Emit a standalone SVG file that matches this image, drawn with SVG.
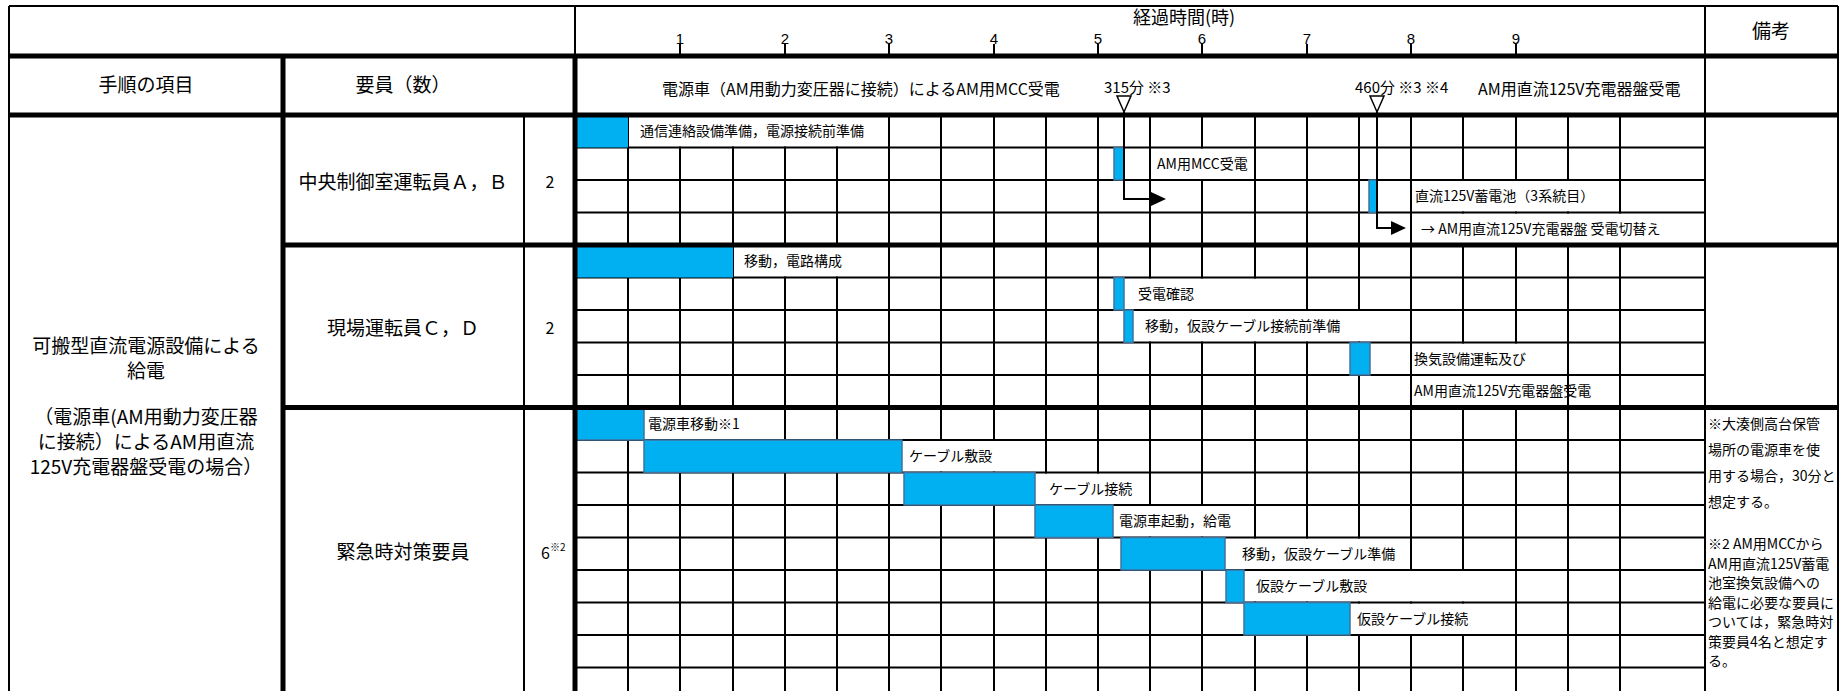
<svg xmlns="http://www.w3.org/2000/svg" width="1840" height="691" viewBox="0 0 1840 691">
<style>
text{font-family:"Noto Sans CJK JP","Noto Sans",sans-serif;fill:#000}
.big{font-size:19px}
.hd{font-size:16px}
.lb{font-size:14px}
.nt{font-size:14px}
.num{font-family:"Liberation Sans",Arial,sans-serif;font-size:15px;text-anchor:middle}
.c{text-anchor:middle}
.grid{stroke:#000;stroke-width:2;fill:none}
.thick{stroke:#000;stroke-width:5;fill:none}
.thin{stroke:#000;stroke-width:2;fill:none}
.cell{fill:#fff}
.bar{fill:#00B0F0;stroke:#41719C;stroke-width:1.5}
.fillc{fill:#00B0F0}
.conn{stroke:#000;stroke-width:2;fill:none}
.tri{fill:#fff;stroke:#000;stroke-width:1.5}
</style>
<defs>
<marker id="ah" viewBox="0 0 15 14" markerWidth="15" markerHeight="14" refX="1" refY="7" orient="auto" markerUnits="userSpaceOnUse"><path d="M0,0 L15,7 L0,14 z" fill="#000"/></marker>
</defs>
<rect x="0" y="0" width="1840" height="691" fill="#fff"/>

<g id="grid">
<path class="grid" d="M628 115V691M680 115V691M733 115V691M785 115V691M837 115V691M889 115V691M941 115V691M994 115V691M1046 115V691M1098 115V691M1150 115V691M1202 115V691M1255 115V691M1307 115V691M1359 115V691M1411 115V691M1463 115V691M1516 115V691M1568 115V691M1620 115V691"/>
<g id="merged-cells">
<rect class="cell" x="629" y="116" width="259" height="30.5"/>
<rect class="cell" x="1151" y="148.5" width="103" height="30.5"/>
<rect class="cell" x="1412" y="181" width="207" height="30.5"/>
<rect class="cell" x="1412" y="213.5" width="291" height="30.5"/>
<rect class="cell" x="734" y="246" width="154" height="30.5"/>
<rect class="cell" x="1125" y="278.5" width="181" height="30.5"/>
<rect class="cell" x="1134" y="311" width="276" height="30.5"/>
<rect class="cell" x="1412" y="343.5" width="155" height="30.5"/>
<rect class="cell" x="1412" y="376" width="155" height="30.5"/>
<rect class="cell" x="645" y="408.5" width="139" height="30.5"/>
<rect class="cell" x="903" y="441" width="142" height="30.5"/>
<rect class="cell" x="1036" y="473.5" width="113" height="30.5"/>
<rect class="cell" x="1114" y="506" width="140" height="30.5"/>
<rect class="cell" x="1226" y="538.5" width="184" height="30.5"/>
<rect class="cell" x="1245" y="571" width="270" height="30.5"/>
<rect class="cell" x="1351" y="603.5" width="164" height="30.5"/>
</g>
<path class="grid" d="M575 147.5H1705M575 180H1705M575 212.5H1705M575 277.5H1705M575 310H1705M575 342.5H1705M575 375H1705M575 440H1705M575 472.5H1705M575 505H1705M575 537.5H1705M575 570H1705M575 602.5H1705M575 635H1705M575 667.5H1705"/>
</g>

<g id="bars">
<rect class="fillc" x="576" y="115" width="52" height="32.5"/>
<rect class="bar" x="1114" y="147.5" width="10" height="32.5"/>
<rect class="bar" x="1369" y="180" width="8" height="32.5"/>
<rect class="fillc" x="576" y="245" width="157" height="32.5"/>
<rect class="bar" x="1114" y="277.5" width="10" height="32.5"/>
<rect class="bar" x="1124" y="310" width="9" height="32.5"/>
<rect class="bar" x="1350" y="342.5" width="20" height="32.5"/>
<rect class="bar" x="576" y="407.5" width="68" height="32.5"/>
<rect class="bar" x="644" y="440" width="258" height="32.5"/>
<rect class="bar" x="904" y="472.5" width="131" height="32.5"/>
<rect class="bar" x="1035" y="505" width="78" height="32.5"/>
<rect class="bar" x="1121" y="537.5" width="104" height="32.5"/>
<rect class="bar" x="1226" y="570" width="18" height="32.5"/>
<rect class="bar" x="1244" y="602.5" width="106" height="32.5"/>
</g>

<g id="frame">
<path class="thin" d="M9 6H1838M9 6V691M1838 6V691M575 6V56M524 115V691"/>
<path class="thin" stroke-width="3" d="M1705 6V691"/>
<path class="thick" d="M9 56H1838M9 115H1838M283 245H1838M283 407.5H1838M283 56V691M575 56V691"/>
<path class="thin" d="M680 44V56M785 44V56M889 44V56M994 44V56M1098 44V56M1202 44V56M1307 44V56M1411 44V56M1516 44V56"/>
</g>

<g id="header">
<text class="c" x="1184" y="24" style="font-size:18px">経過時間(時)</text>
<text class="num" x="680" y="43.5">1</text>
<text class="num" x="785" y="43.5">2</text>
<text class="num" x="889" y="43.5">3</text>
<text class="num" x="994" y="43.5">4</text>
<text class="num" x="1098" y="43.5">5</text>
<text class="num" x="1202" y="43.5">6</text>
<text class="num" x="1307" y="43.5">7</text>
<text class="num" x="1411" y="43.5">8</text>
<text class="num" x="1516" y="43.5">9</text>
<text class="c big" x="1771" y="38">備考</text>
<text class="c big" x="146" y="92">手順の項目</text>
<text class="c big" x="403" y="92">要員（数）</text>
<text class="hd" x="662" y="95">電源車（AM用動力変圧器に接続）によるAM用MCC受電</text>
<text x="1104" y="93" style="font-size:15px">315分 ※3</text>
<text x="1355" y="93" style="font-size:15px">460分 ※3 ※4</text>
<text class="hd" x="1478" y="95">AM用直流125V充電器盤受電</text>
</g>

<g id="procedure">
<text class="c big" x="146" y="353">可搬型直流電源設備による</text>
<text class="c big" x="146" y="378">給電</text>
<text class="c big" x="146" y="424">（電源車(AM用動力変圧器</text>
<text class="c big" x="146" y="449">に接続）によるAM用直流</text>
<text class="c big" x="146" y="474">125V充電器盤受電の場合）</text>
</g>

<g id="staff-central">
<text class="c big" x="403" y="189">中央制御室運転員Ａ，Ｂ</text>
<text class="c" x="550" y="188" style="font-size:16px">2</text>
</g>
<g id="staff-field">
<text class="c big" x="403" y="335">現場運転員Ｃ，Ｄ</text>
<text class="c" x="550" y="334" style="font-size:16px">2</text>
</g>
<g id="staff-emergency">
<text class="c big" x="403" y="559">緊急時対策要員</text>
<text x="541" y="559" style="font-size:16px">6</text>
<text x="550" y="551" style="font-size:10px">※2</text>
</g>

<g id="tasks">
<text class="lb" x="640" y="136">通信連絡設備準備，電源接続前準備</text>
<text class="lb" x="1157" y="169">AM用MCC受電</text>
<text class="lb" x="1415" y="201">直流125V蓄電池（3系統目）</text>
<text class="lb" x="1421" y="234">→ AM用直流125V充電器盤 受電切替え</text>
<text class="lb" x="744" y="266">移動，電路構成</text>
<text class="lb" x="1138" y="299">受電確認</text>
<text class="lb" x="1145" y="331">移動，仮設ケーブル接続前準備</text>
<text class="lb" x="1414" y="364">換気設備運転及び</text>
<text class="lb" x="1414" y="396">AM用直流125V充電器盤受電</text>
<text class="lb" x="648" y="429">電源車移動※1</text>
<text class="lb" x="909" y="461">ケーブル敷設</text>
<text class="lb" x="1049" y="494">ケーブル接続</text>
<text class="lb" x="1119" y="526">電源車起動，給電</text>
<text class="lb" x="1242" y="559">移動，仮設ケーブル準備</text>
<text class="lb" x="1256" y="591">仮設ケーブル敷設</text>
<text class="lb" x="1357" y="624">仮設ケーブル接続</text>
</g>

<g id="notes">
<text class="nt" x="1708" y="429">※大湊側高台保管</text>
<text class="nt" x="1708" y="455">場所の電源車を使</text>
<text class="nt" x="1708" y="481">用する場合，30分と</text>
<text class="nt" x="1708" y="507">想定する。</text>
<text class="nt" x="1708" y="549">※2 AM用MCCから</text>
<text class="nt" x="1708" y="568.5">AM用直流125V蓄電</text>
<text class="nt" x="1708" y="588">池室換気設備への</text>
<text class="nt" x="1708" y="607.5">給電に必要な要員に</text>
<text class="nt" x="1708" y="627">ついては，緊急時対</text>
<text class="nt" x="1708" y="646.5">策要員4名と想定す</text>
<text class="nt" x="1708" y="666">る。</text>
</g>

<g id="connectors">
<polygon class="tri" points="1117,96 1131,96 1124,112"/>
<polygon class="tri" points="1370,96 1384,96 1377,112"/>
<path class="conn" d="M1124 112V199H1152" marker-end="url(#ah)"/>
<path class="conn" d="M1377 112V228H1392" marker-end="url(#ah)"/>
</g>
</svg>
